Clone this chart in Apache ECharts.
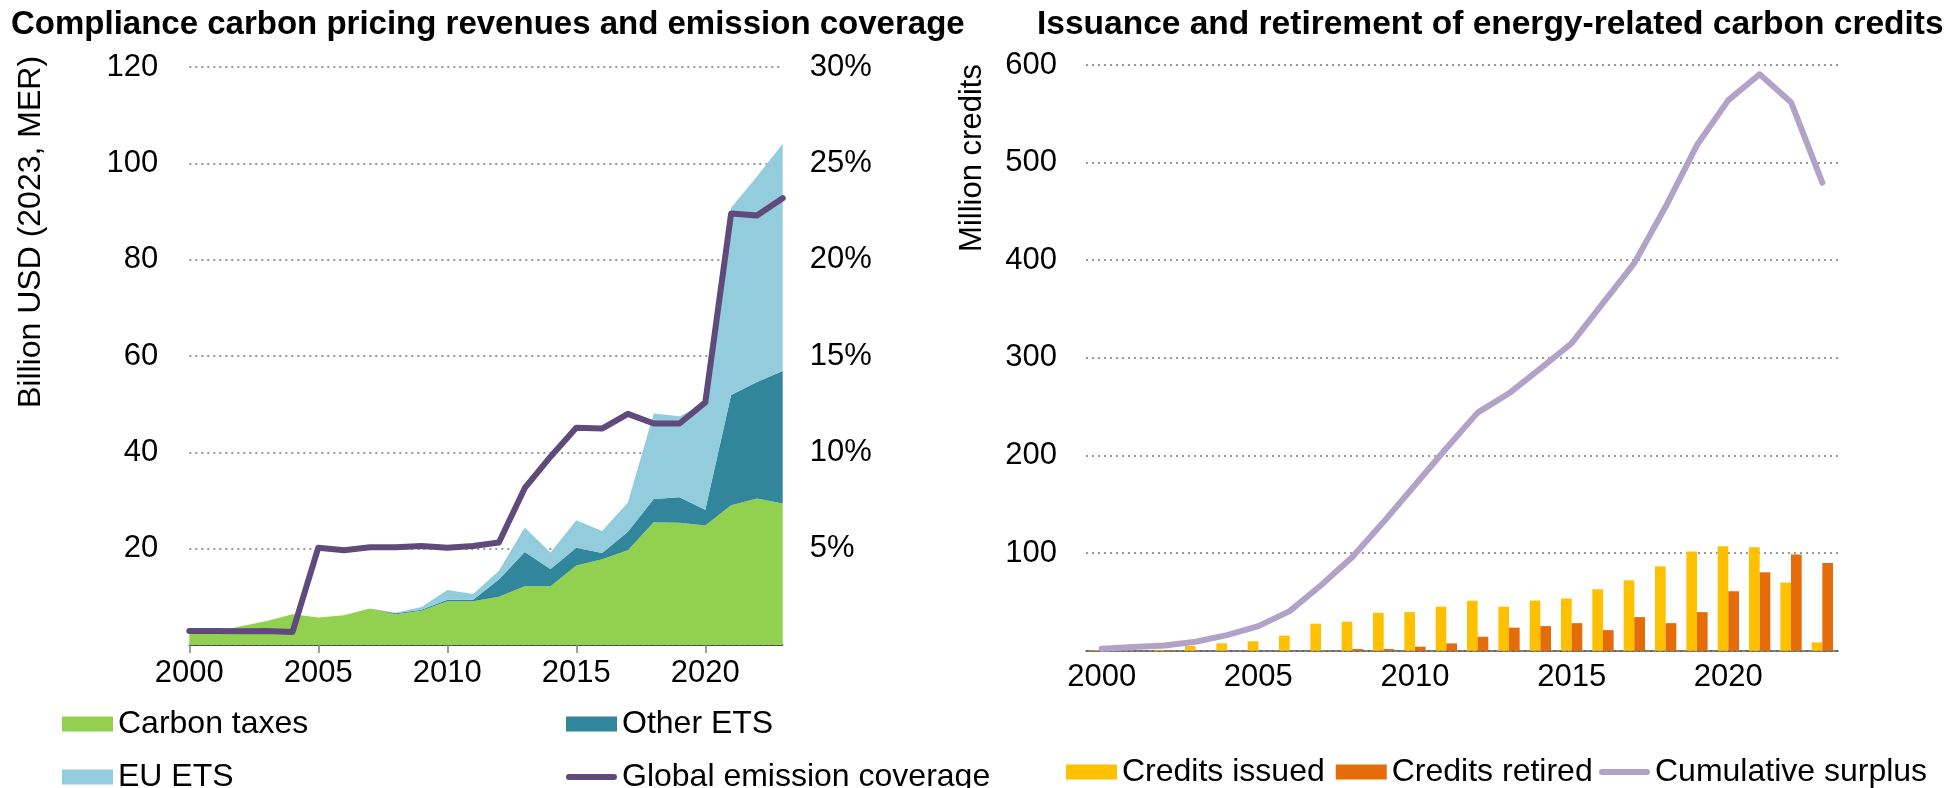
<!DOCTYPE html>
<html><head><meta charset="utf-8">
<script src="https://cdn.jsdelivr.net/npm/echarts@6/dist/echarts.min.js"></script>
<style>html,body{margin:0;padding:0;background:#fff}#c{width:1948px;height:788px}</style>
</head><body><div id="c"></div>
<script>
// ---- data ----
const years = ['2000','2001','2002','2003','2004','2005','2006','2007','2008','2009','2010','2011',
               '2012','2013','2014','2015','2016','2017','2018','2019','2020','2021','2022','2023'];
// Left chart: billion USD (2023, MER)
const carbonTaxes = [2.5, 2.7, 3.9, 5.0, 6.4, 5.7, 6.2, 7.6, 6.4, 7.1, 9.1, 9.1, 10.0, 12.2, 12.2, 16.5, 17.8, 19.7, 25.5, 25.4, 24.8, 29.0, 30.4, 29.4];
const otherETS    = [0, 0, 0, 0, 0, 0, 0, 0, 0.2, 0.2, 0.3, 0.3, 3.6, 7.1, 3.6, 3.7, 1.3, 3.8, 4.8, 5.3, 3.3, 22.9, 24.2, 27.5];
const euETS       = [0, 0, 0, 0, 0, 0, 0, 0, 0.1, 0.6, 2.0, 1.2, 1.8, 5.1, 3.4, 5.7, 4.6, 6.1, 17.8, 16.8, 22.0, 38.9, 42.7, 47.2];
// Global emission coverage (%)
const coverage    = [0.73, 0.73, 0.72, 0.73, 0.67, 5.05, 4.92, 5.08, 5.08, 5.14, 5.05, 5.14, 5.32, 8.14, 9.78, 11.28, 11.24, 12.0, 11.5, 11.5, 12.6, 22.4, 22.3, 23.2];
// Right chart: million credits
const issued      = [0.5, 0.3, 1.0, 4.8, 7.5, 9.6, 15.4, 27.7, 29.7, 38.9, 39.6, 45.1, 51.2, 45.1, 51.4, 53.4, 62.9, 72.1, 86.4, 101.7, 107.1, 106.1, 69.7, 8.5];
const retired     = [0, 0, 0.5, 0, 0, 0, 0, 0.5, 1.7, 1.7, 4.1, 7.5, 14.3, 23.6, 25.2, 28.2, 21.1, 34.4, 28.2, 39.5, 60.9, 80.3, 98.6, 89.8];
const surplus     = [2, 3.7, 5.4, 9.2, 16, 25.2, 40.5, 67, 95.9, 132, 169.8, 207.4, 243.9, 263.7, 289, 315, 356, 397, 455, 518, 564, 590.5, 561.9, 479.5];

const FONT = 'Liberation Sans, Arial, sans-serif';
const TICK = 31, LEG = 32;
const gridLine = {show: true, lineStyle: {color: '#999999', width: 2, type: [2, 4], cap: 'butt'}};
const LINE_ICON = 'path://M3,0L49,0A3,3,0,0,1,49,6L3,6A3,3,0,0,1,3,0Z';

const chart = echarts.init(document.getElementById('c'), null, {renderer: 'canvas'});
const legText = {fontSize: LEG, fontFamily: FONT, color: '#000'};
function leg(names, left, top, icon, h) {
  return {left: left, top: top, itemWidth: 51, itemHeight: h || 15, itemGap: 11, textStyle: legText,
          selectedMode: false, data: names.map(n => ({name: n, icon: icon}))};
}

chart.setOption({
  animation: false,
  textStyle: {fontFamily: FONT},
  title: [
    {text: 'Compliance carbon pricing revenues and emission coverage', left: 6, top: 3,
     textStyle: {fontSize: 33, fontWeight: 'bold', fontFamily: FONT, color: '#000'}},
    {text: 'Issuance and retirement of energy-related carbon credits', left: 1032, top: 3,
     textStyle: {fontSize: 33.5, fontWeight: 'bold', fontFamily: FONT, color: '#000'}}
  ],
  graphic: [
    {type: 'text', x: 31, y: 232, rotation: Math.PI / 2,
     style: {text: 'Billion USD (2023, MER)', fontSize: 32, fontFamily: FONT, fill: '#000', align: 'center', verticalAlign: 'middle'}},
    {type: 'text', x: 972, y: 158, rotation: Math.PI / 2,
     style: {text: 'Million credits', fontSize: 31, fontFamily: FONT, fill: '#000', align: 'center', verticalAlign: 'middle'}}
  ],
  legend: [
    leg(['Carbon taxes'], 57, 703, 'rect'),
    leg(['Other ETS'], 561, 703, 'rect'),
    leg(['EU ETS'], 57, 756, 'rect'),
    leg(['Global emission coverage'], 561, 756, LINE_ICON, 6),
    leg(['Credits issued', 'Credits retired'], 1061, 751, 'rect'),
    leg(['Cumulative surplus'], 1594, 751, LINE_ICON, 6)
  ],
  grid: [
    {left: 189.3, right: 1948 - 782.7, top: 67.2, bottom: 788 - 645},
    {left: 1086, right: 1948 - 1838, top: 65, bottom: 788 - 650.7}
  ],
  xAxis: [
    {type: 'category', gridIndex: 0, data: years, boundaryGap: false,
     axisLine: {lineStyle: {color: '#222', width: 1.5}},
     axisTick: {interval: 4, length: 8, lineStyle: {color: '#808080', width: 1.5}},
     axisLabel: {interval: 4, fontSize: TICK, fontFamily: FONT, color: '#000', margin: 13},
     splitLine: {show: false}},
    {type: 'category', gridIndex: 1, data: years, boundaryGap: true,
     axisLine: {lineStyle: {color: '#555', width: 1.5}},
     axisTick: {interval: 4, length: 9, lineStyle: {color: '#808080', width: 1.5}},
     axisLabel: {interval: 4, fontSize: TICK, fontFamily: FONT, color: '#000', margin: 11},
     splitLine: {show: false}}
  ],
  yAxis: [
    {type: 'value', gridIndex: 0, min: 0, max: 120, interval: 20,
     axisLine: {show: false}, axisTick: {show: false}, splitLine: gridLine,
     axisLabel: {fontSize: TICK, fontFamily: FONT, color: '#000', margin: 31,
                 formatter: v => v === 0 ? '' : String(v)}},
    {type: 'value', gridIndex: 0, min: 0, max: 30, interval: 5, position: 'right',
     axisLine: {show: false}, axisTick: {show: false}, splitLine: {show: false},
     axisLabel: {fontSize: TICK, fontFamily: FONT, color: '#000', margin: 27,
                 formatter: v => v === 0 ? '' : v + '%'}},
    {type: 'value', gridIndex: 1, min: 0, max: 600, interval: 100,
     axisLine: {show: false}, axisTick: {show: false}, splitLine: gridLine,
     axisLabel: {fontSize: TICK, fontFamily: FONT, color: '#000', margin: 29,
                 formatter: v => v === 0 ? '' : String(v)}}
  ],
  series: [
    {name: 'Carbon taxes', type: 'line', xAxisIndex: 0, yAxisIndex: 0, stack: 'rev', data: carbonTaxes,
     symbol: 'none', lineStyle: {width: 0}, itemStyle: {color: '#92D050'}, areaStyle: {color: '#92D050', opacity: 1}},
    {name: 'Other ETS', type: 'line', xAxisIndex: 0, yAxisIndex: 0, stack: 'rev', data: otherETS,
     symbol: 'none', lineStyle: {width: 0}, itemStyle: {color: '#31869B'}, areaStyle: {color: '#31869B', opacity: 1}},
    {name: 'EU ETS', type: 'line', xAxisIndex: 0, yAxisIndex: 0, stack: 'rev', data: euETS,
     symbol: 'none', lineStyle: {width: 0}, itemStyle: {color: '#93CDDD'}, areaStyle: {color: '#93CDDD', opacity: 1}},
    {name: 'Global emission coverage', type: 'line', xAxisIndex: 0, yAxisIndex: 1, data: coverage, z: 5,
     symbol: 'none', lineStyle: {width: 6, color: '#604A7B', cap: 'round', join: 'round'}, itemStyle: {color: '#604A7B'}},
    {name: 'Credits issued', type: 'bar', xAxisIndex: 1, yAxisIndex: 2, data: issued,
     barGap: '0%', barCategoryGap: '32%', itemStyle: {color: '#FFC000'}},
    {name: 'Credits retired', type: 'bar', xAxisIndex: 1, yAxisIndex: 2, data: retired,
     barGap: '0%', barCategoryGap: '32%', itemStyle: {color: '#E46C0A'}},
    {name: 'Cumulative surplus', type: 'line', xAxisIndex: 1, yAxisIndex: 2, data: surplus, z: 5,
     symbol: 'none', lineStyle: {width: 6, color: '#B3A2C7', cap: 'round', join: 'round'}, itemStyle: {color: '#B3A2C7'}}
  ]
});
</script>
</body></html>
